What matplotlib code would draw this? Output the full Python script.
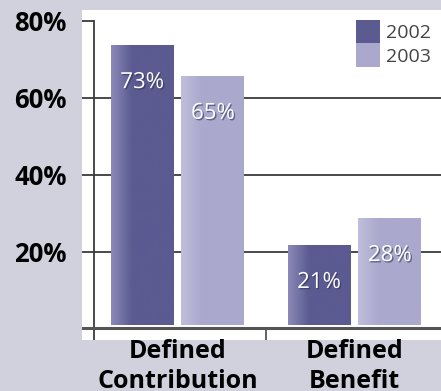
import matplotlib.pyplot as plt
import matplotlib.patheffects as pe
from matplotlib.patches import Patch
from matplotlib.colors import LinearSegmentedColormap
import numpy as np

categories = ['Defined\nContribution', 'Defined\nBenefit']
years = ['2002', '2003']
values_2002 = [73, 21]
values_2003 = [65, 28]
tick_values = [20, 40, 60, 80]
tick_labels = ['20%', '40%', '60%', '80%']

bg = '#d1d1de'
c_dark = '#5b5a91'
c_light = '#aaa9cd'

fig = plt.figure(figsize=(4.41, 3.91), dpi=100, facecolor=bg)
ax = fig.add_axes([82/441, 51/391, 359/441, 330/391])
ax.set_facecolor('white')

x = np.arange(len(categories))
w = 0.356
off = 0.2

ax.set_xlim(-0.54, 1.489)
ax.set_ylim(-3.0, 82.85)

# grid and axis lines
for t in tick_values[:-1]:
    ax.axhline(t, color='#3a3a3a', lw=1.3, zorder=1)
ax.hlines(80, -0.54, -0.472, color='#3a3a3a', lw=1.3, zorder=1)
ax.axvline(-0.472, ymin=0, ymax=(80 + 3.0) / 85.85, color='#3a3a3a', lw=1.3, zorder=1)
ax.axhline(0, color='#555555', lw=2.2, zorder=4)
ax.vlines(0.5, -3.0, 0, color='#555555', lw=1.3, zorder=4)


def gradient_bars(bars, base, light):
    cmap = LinearSegmentedColormap.from_list('g', [light, base, base, base])
    for b in bars:
        x0, y0 = b.get_x(), b.get_y()
        bw, bh = b.get_width(), b.get_height()
        grad = np.linspace(0, 1, 64).reshape(1, -1)
        im = ax.imshow(grad, cmap=cmap, extent=[x0, x0 + bw, y0, y0 + bh],
                       aspect='auto', zorder=3, interpolation='bicubic')
        im.set_clip_path(b)


b1 = ax.bar(x - off, values_2002, w, bottom=0.8, color=c_dark, zorder=2)
b2 = ax.bar(x + off, values_2003, w, bottom=0.8, color=c_light, zorder=2)
gradient_bars(b1, c_dark, '#8a89b7')
gradient_bars(b2, c_light, '#bfbedb')

for bars, vals in ((b1, values_2002), (b2, values_2003)):
    for b, v in zip(bars, vals):
        ax.annotate(f'{v}%', (b.get_x() + b.get_width() / 2, v), xytext=(0, -25),
                    textcoords='offset points', ha='center', va='center',
                    color='white', fontsize=16, fontfamily='Open Sans', zorder=6,
                    path_effects=[pe.withSimplePatchShadow(offset=(1, -1), shadow_rgbFace='#333355', alpha=0.6)])

ax.set_yticks(tick_values)
ax.set_yticklabels(tick_labels, fontsize=18.5, fontweight='bold', fontfamily='Open Sans')
ax.set_xticks(x)
ax.set_xticklabels(categories, fontsize=18, fontweight='bold', fontfamily='Open Sans', linespacing=1.3)
ax.tick_params(axis='y', length=0, pad=11)
ax.tick_params(axis='x', length=0, pad=-1)
for s in ax.spines.values():
    s.set_visible(False)

handles = [Patch(facecolor=c_dark, label=years[0]), Patch(facecolor=c_light, label=years[1])]
ax.legend(handles=handles, loc='upper right', frameon=False,
          prop={'family': 'Open Sans', 'size': 14}, handlelength=1.25, handleheight=1.5,
          handletextpad=0.3, labelspacing=0.0, borderaxespad=0.1, labelcolor='#444444')

fig.savefig('out.png', dpi=100, facecolor=bg)
